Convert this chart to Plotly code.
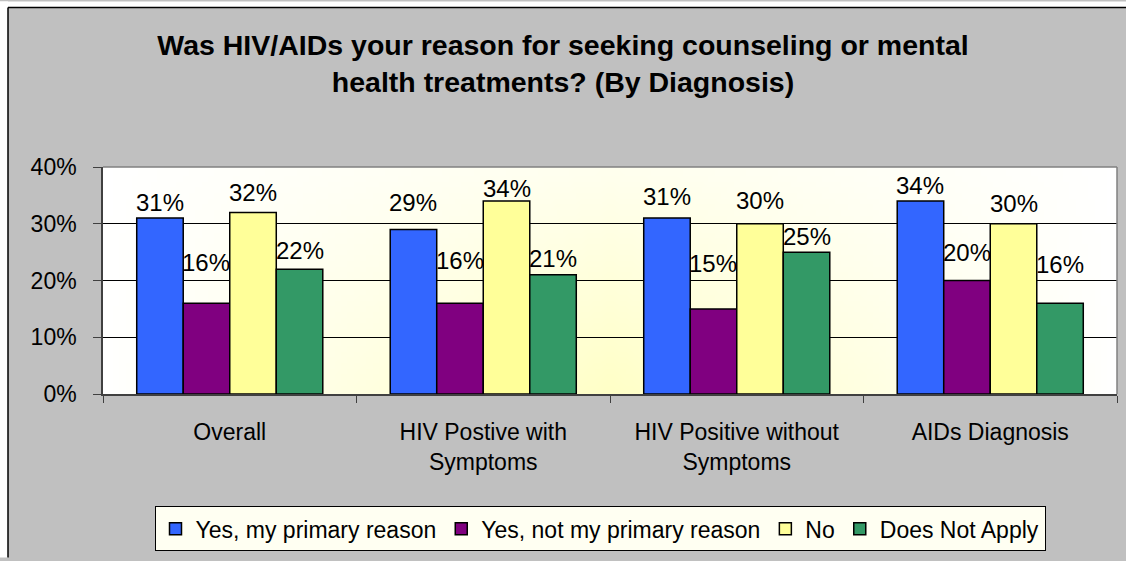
import base64, struct, zlib
import plotly.graph_objects as go

# ---------------- data ----------------
categories = ["Overall", "HIV Postive with<br>Symptoms", "HIV Positive without<br>Symptoms", "AIDs Diagnosis"]
series_names = ["Yes, my primary reason", "Yes, not my primary reason", "No", "Does Not Apply"]
yes_primary = [0.31, 0.29, 0.31, 0.34]
yes_not_primary = [0.16, 0.16, 0.15, 0.20]
no_answer = [0.32, 0.34, 0.30, 0.30]
does_not_apply = [0.22, 0.21, 0.25, 0.16]
y_ticks = [0, 0.1, 0.2, 0.3, 0.4]
title_text = "Was HIV/AIDs your reason for seeking counseling or mental<br>health treatments? (By Diagnosis)"

# ---------------- style ----------------
colors = ["#3366FF", "#800080", "#FFFF99", "#339966"]
# vertical lift (px) of each data label centre above its bar top, per series
label_lift = [
    [16, 27, 22, 16],
    [41, 43, 45, 28],
    [20, 13, 23, 20],
    [19, 16, 16, 39],
]
FONT = "Liberation Sans, Arial, sans-serif"
W, H = 1126, 561
ML, MR, MT, MB = 103, 9, 167, 165
BARGAP = 0.266


def png_uri(w, h, fn):
    raw = b"".join(b"\x00" + b"".join(bytes(fn(x / (w - 1), y / (h - 1))) for x in range(w)) for y in range(h))

    def chunk(t, d):
        c = struct.pack(">I", len(d)) + t + d
        return c + struct.pack(">I", zlib.crc32(t + d) & 0xFFFFFFFF)

    png = (b"\x89PNG\r\n\x1a\n" + chunk(b"IHDR", struct.pack(">IIBBBBB", w, h, 8, 2, 0, 0, 0))
           + chunk(b"IDAT", zlib.compress(raw, 9)) + chunk(b"IEND", b""))
    return "data:image/png;base64," + base64.b64encode(png).decode()


def grad(u, v):
    s = (1 - abs(2 * u - 1)) ** 0.9 * (0.3 + 0.7 * v)
    return (255, 255, int(round(255 - 56 * s)))


series = [yes_primary, yes_not_primary, no_answer, does_not_apply]

fig = go.Figure()
for name, vals, col in zip(series_names, series, colors):
    fig.add_trace(go.Bar(
        name=name, x=categories, y=vals,
        marker=dict(color=col, line=dict(color="black", width=1.5)),
        hoverinfo="skip",
    ))

# data labels
n = len(series)
bw = (1 - BARGAP) / n
annotations = []
for k, vals in enumerate(series):
    off = -(1 - BARGAP) / 2 + bw * (k + 0.5)
    for i, v in enumerate(vals):
        annotations.append(dict(
            x=i + off, y=v, xref="x", yref="y", text=f"{round(v * 100)}%",
            showarrow=False, yanchor="middle", xanchor="center",
            yshift=label_lift[k][i], font=dict(family=FONT, size=24, color="black"),
        ))

pw, ph = W - ML - MR, H - MT - MB


def px_x(X):
    return (X - ML) / pw


def px_y(Y):
    return (H - MB - Y) / ph


shapes = [
    # white margin outside chart border
    dict(type="rect", xref="paper", yref="paper", x0=px_x(0), x1=px_x(8), y0=px_y(H), y1=px_y(0),
         fillcolor="white", line=dict(width=0), layer="below"),
    dict(type="rect", xref="paper", yref="paper", x0=px_x(0), x1=px_x(W), y0=px_y(6), y1=px_y(0),
         fillcolor="white", line=dict(width=0), layer="below"),
    # chart border
    dict(type="line", xref="paper", yref="paper", x0=px_x(8), x1=px_x(8), y0=px_y(H), y1=px_y(6),
         line=dict(color="black", width=1.5)),
    dict(type="line", xref="paper", yref="paper", x0=px_x(8), x1=px_x(W), y0=px_y(6), y1=px_y(6),
         line=dict(color="black", width=1.5)),
    # plot area top/right border
    dict(type="line", xref="paper", yref="paper", x0=0, x1=1, y0=1, y1=1, line=dict(color="#808080", width=1.5)),
    dict(type="line", xref="paper", yref="paper", x0=1, x1=1, y0=0, y1=1, line=dict(color="#808080", width=1.5)),
]

fig.update_layout(
    width=W, height=H, autosize=False,
    margin=dict(l=ML, r=MR, t=MT, b=MB, pad=0),
    paper_bgcolor="#C0C0C0", plot_bgcolor="white",
    barmode="group", bargap=BARGAP, bargroupgap=0,
    font=dict(family=FONT, color="black"),
    title=dict(text=title_text, x=0.5, xref="container", xanchor="center",
               y=1 - 55 / H, yref="container", yanchor="top",
               font=dict(family=FONT, size=28.5, color="black", weight="bold")),
    xaxis=dict(type="category", tickson="boundaries", ticks="outside", ticklen=7, tickcolor="#404040",
               showline=True, linecolor="#404040", linewidth=1.5, showgrid=False,
               tickfont=dict(family=FONT, size=23, color="black"), ticklabelstandoff=17),
    yaxis=dict(range=[0, 0.40], tickvals=y_ticks, tickformat=".0%", ticks="outside", ticklen=8,
               tickcolor="#404040", showline=True, linecolor="#404040", linewidth=1.5,
               showgrid=True, gridcolor="black", gridwidth=1, zeroline=False,
               tickfont=dict(family=FONT, size=23, color="black"), ticklabelstandoff=12),
    legend=dict(orientation="h", x=px_x(600), xanchor="center", y=px_y(532), yanchor="middle",
                bgcolor="#FFFFF2", bordercolor="black", borderwidth=1,
                font=dict(family=FONT, size=23, color="black"), traceorder="normal",
                itemclick=False, itemdoubleclick=False),
    annotations=annotations,
    shapes=shapes,
    images=[dict(source=png_uri(160, 40, grad), xref="paper", yref="paper", x=0, y=1, sizex=1, sizey=1,
                 xanchor="left", yanchor="top", sizing="stretch", layer="below")],
    showlegend=True,
)

fig.write_html(
    "out.html", config={"displayModeBar": False},
    post_script=("document.body.style.margin='0px';document.body.style.overflow='hidden';"
                 "document.body.style.background='#C0C0C0';"
                 "document.documentElement.style.background='#C0C0C0';"),
)
